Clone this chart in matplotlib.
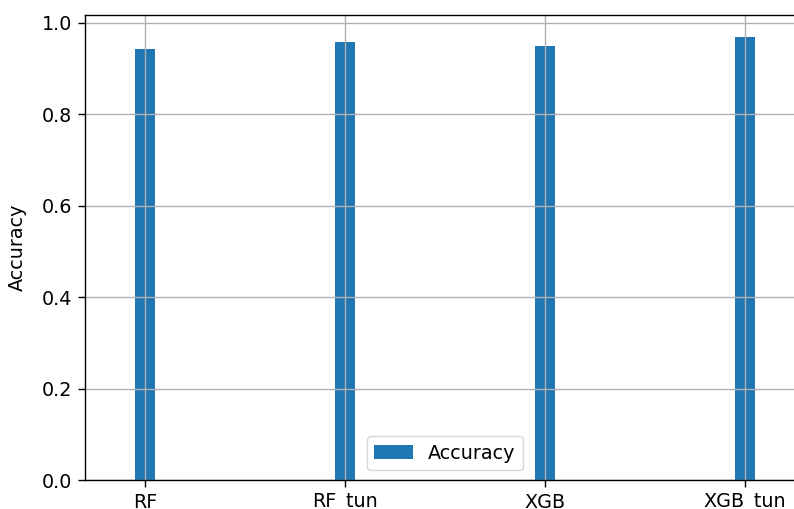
import matplotlib
matplotlib.use("Agg")
import matplotlib.pyplot as plt
import numpy as np

models = ["RF", "RF_tun", "XGB", "XGB_tun"]
accuracy = [0.942, 0.957, 0.950, 0.969]

plt.rcParams.update({
    "font.size": 13.8,
    "axes.linewidth": 1.0,
    "grid.linewidth": 1.0,
    "xtick.major.size": 5,
    "ytick.major.size": 5,
    "xtick.major.width": 1.0,
    "ytick.major.width": 1.0,
    "xtick.major.pad": 4.5,
    "ytick.major.pad": 4.5,
})

W, H = 794, 509
fig = plt.figure(figsize=(W / 100, H / 100), dpi=100)
ax = fig.add_axes([85 / W, (H - 480) / H, 720 / W, 465 / H])

pos = np.arange(len(models))
ax.bar(pos, accuracy, width=0.1, color="#1f77b4", label="Accuracy")
ax.set_xticks(pos)
ax.set_xticklabels(models)
ax.set_xlim(-0.3, 3.3)
ax.set_ylim(0, 1.017)
ax.grid(True)
ax.set_ylabel("Accuracy")
ax.yaxis.set_label_coords(-58 / 720, 0.5)
ax.legend(loc="lower center")

fig.savefig("out.png", dpi=100)
